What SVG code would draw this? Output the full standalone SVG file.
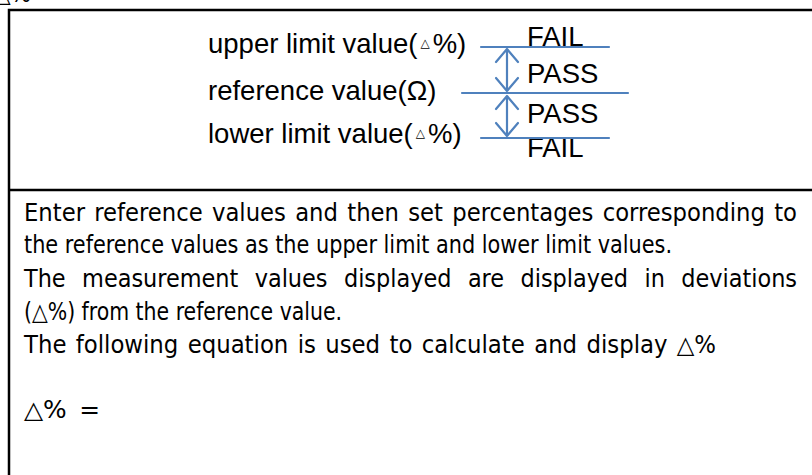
<svg xmlns="http://www.w3.org/2000/svg" width="812" height="475" viewBox="0 0 812 475">
<style>
.lbl{font-family:'Liberation Sans',Arial,sans-serif;font-size:27.5px;fill:#000}
.tri{font-family:'DejaVu Sans',sans-serif;font-size:12px}
.body{font-family:'DejaVu Sans Condensed','DejaVu Sans',sans-serif;font-stretch:condensed;font-size:24px;fill:#000}
.frame{fill:none;stroke:#000;stroke-width:2.5}
.conn{stroke:#4F81BD;stroke-width:2.2;fill:none;stroke-linecap:round;stroke-linejoin:round}
</style>
<rect fill="#fff" width="812" height="475"/>
<text class="body" x="-6" y="2">△%</text>
<g id="frame">
<rect class="frame" x="9" y="10" width="830" height="490"/>
<line class="frame" x1="9" y1="190" x2="812" y2="190"/>
</g>
<g id="upper-limit"><text class="lbl" x="208" y="53">upper limit value(<tspan class="tri" dx="3" dy="-6">△</tspan><tspan dx="3" dy="6">%)</tspan></text></g>
<g id="reference"><text class="lbl" x="208" y="100">reference value(Ω)</text></g>
<g id="lower-limit"><text class="lbl" x="208" y="143">lower limit value(<tspan class="tri" dx="3" dy="-6">△</tspan><tspan dx="3" dy="6">%)</tspan></text></g>
<g id="zones">
<text class="lbl" x="527" y="46">FAIL</text>
<text class="lbl" x="527" y="83">PASS</text>
<text class="lbl" x="527" y="123">PASS</text>
<text class="lbl" x="527" y="157">FAIL</text>
</g>
<g id="connectors">
<line class="conn" x1="481" y1="47" x2="609" y2="47"/>
<line class="conn" x1="462" y1="93" x2="628" y2="93"/>
<line class="conn" x1="481" y1="138" x2="609" y2="138"/>
<path class="conn" d="M507 49V91M496 62L507 49L518 62M496 78L507 91L518 78"/>
<path class="conn" d="M507 96V136M496 109L507 96L518 109M496 123L507 136L518 123"/>
</g>
<g id="description">
<text class="body" x="24" y="221" word-spacing="2" textLength="773" lengthAdjust="spacingAndGlyphs">Enter reference values and then set percentages corresponding to</text>
<text class="body" x="24" y="253" textLength="648" lengthAdjust="spacingAndGlyphs">the reference values as the upper limit and lower limit values.</text>
<text class="body" x="24" y="287" word-spacing="9" textLength="773" lengthAdjust="spacingAndGlyphs">The measurement values displayed are displayed in deviations</text>
<text class="body" x="24" y="320" textLength="318" lengthAdjust="spacingAndGlyphs">(△%) from the reference value.</text>
<text class="body" x="24" y="353" word-spacing="2" textLength="692" lengthAdjust="spacingAndGlyphs">The following equation is used to calculate and display △%</text>
<text class="body" x="24" y="418" word-spacing="4" textLength="76" lengthAdjust="spacingAndGlyphs">△% =</text>
</g>
</svg>
